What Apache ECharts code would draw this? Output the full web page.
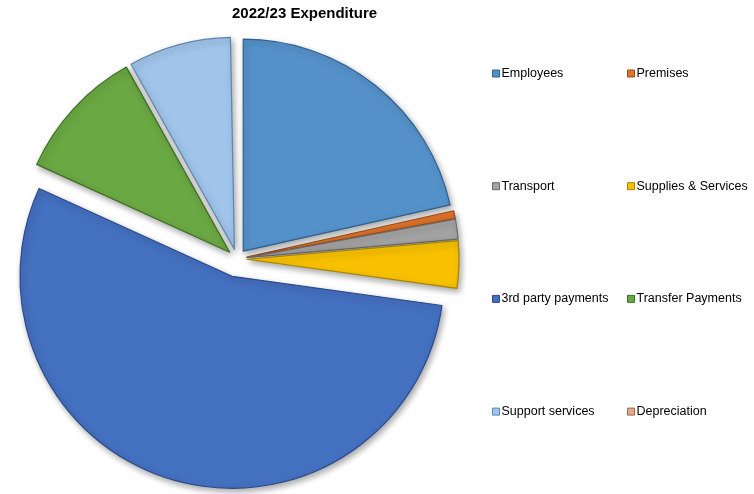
<!DOCTYPE html>
<html>
<head>
<meta charset="utf-8">
<script src="https://cdn.jsdelivr.net/npm/echarts@6/dist/echarts.min.js"></script>
<style>
html,body{margin:0;padding:0;background:#fff;}
#chart{width:754px;height:494px;}
</style>
</head>
<body>
<div id="chart"></div>
<script>
const categories = ['Employees','Premises','Transport','Supplies & Services','3rd party payments','Transfer Payments','Support services','Depreciation'];
const values = [21.5, 0.6, 1.5, 3.6, 54.6, 10.1, 7.8, 0.3];
const colors = ['#5591c9','#e0742a','#a3a3a3','#f7c000','#4470c0','#6aa843','#a0c4ea','#e4a88a'];
const borders = ['#2f5f8f','#9a4a15','#6a6a6a','#a88200','#2a4a8a','#3f6e25','#5f86b0','#a06a50'];
const legendCol1 = ['Employees','Transport','3rd party payments','Support services'];
const legendCol2 = ['Premises','Supplies & Services','Transfer Payments','Depreciation'];
const bigExploded = ['3rd party payments'];
const hidden = ['Depreciation'];

const chart = echarts.init(document.getElementById('chart'), null, {renderer:'canvas'});
function legendData(names) {
  return names.map(n => {
    const i = categories.indexOf(n);
    return {name: n, itemStyle: {color: colors[i], borderColor: borders[i], borderWidth: 1, opacity: 1}};
  });
}
const legendBase = {
  orient:'vertical', top: 67, itemGap: 99.7, itemWidth: 7, itemHeight: 7,
  icon: 'rect', selectedMode: false, padding: 0,
  textStyle: {fontFamily:'Liberation Sans, Arial, sans-serif', fontSize: 12.5, color:'#000', padding: [0,0,0,-3]}
};
function pieSeries(offset, showFn, z) {
  return {
    type: 'pie',
    center: [237, 259],
    radius: 212,
    startAngle: 90,
    clockwise: true,
    selectedMode: 'multiple',
    selectedOffset: offset,
    z: z,
    label: {show: false},
    labelLine: {show: false},
    emphasis: {disabled: true},
    data: categories.map((n, i) => ({
      name: n, value: values[i], selected: true,
      itemStyle: {
        color: colors[i], borderColor: borders[i], borderWidth: 1.2,
        opacity: showFn(n) ? 1 : 0,
        shadowBlur: 6, shadowOffsetX: 2, shadowOffsetY: 3, shadowColor: 'rgba(0,0,0,0.35)'
      }
    }))
  };
}
chart.setOption({
  animation: false,
  title: {
    text: '2022/23 Expenditure', left: 227, top: 1,
    textStyle: {fontFamily:'Liberation Sans, Arial, sans-serif', fontSize: 15, fontWeight:'bold', color:'#000'}
  },
  legend: [
    Object.assign({}, legendBase, {left: 492, data: legendData(legendCol1)}),
    Object.assign({}, legendBase, {left: 627, data: legendData(legendCol2)})
  ],
  series: [
    pieSeries(10, n => bigExploded.indexOf(n) < 0 && hidden.indexOf(n) < 0, 2),
    pieSeries(18, n => bigExploded.indexOf(n) >= 0, 1)
  ]
});
</script>
</body>
</html>
